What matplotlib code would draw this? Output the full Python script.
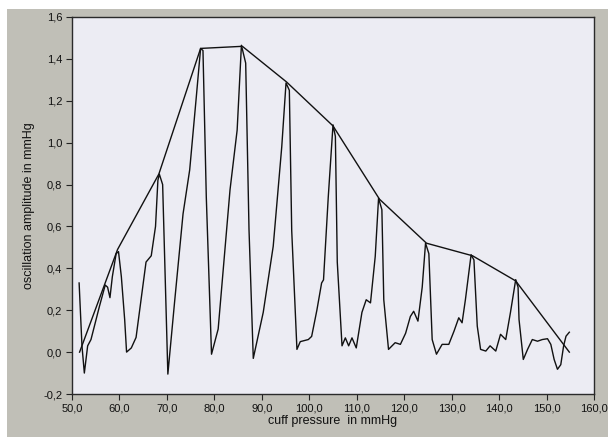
import matplotlib
matplotlib.use("Agg")
import matplotlib.pyplot as plt
from matplotlib.patches import Rectangle
from matplotlib.ticker import FuncFormatter, MultipleLocator

plt.rcParams['font.family'] = ['Liberation Sans', 'DejaVu Sans']

# oscillation signal (cuff pressure, amplitude)
signal_x = [51.5, 52.1, 52.6, 53.3, 54.0, 55.8, 57.0, 57.5, 58.0, 58.5, 59.3, 59.8,
            60.4, 61.1, 61.5, 62.5, 63.5, 65.6, 66.7, 67.6, 68.1, 68.4, 69.1, 70.2,
            71.6, 73.4, 74.8, 76.2, 77.1, 77.6, 78.3, 79.4, 80.8, 83.3, 84.8, 85.7,
            86.6, 87.3, 88.2, 90.3, 92.4, 94.2, 95.1, 95.8, 96.3, 97.4, 98.1, 99.8,
            100.5, 101.6, 102.6, 103.0, 104.0, 105.0, 105.5, 105.9, 106.9, 107.6,
            108.3, 109.0, 109.9, 111.1, 112.0, 112.9, 113.9, 114.6, 115.3, 115.7,
            116.7, 118.1, 119.2, 120.3, 121.3, 122.0, 122.9, 123.8, 124.5, 125.2,
            125.9, 126.8, 128.0, 129.4, 130.5, 131.5, 132.2, 132.9, 134.1, 134.7,
            135.4, 136.1, 137.2, 138.1, 139.3, 140.3, 141.4, 142.4, 143.5, 144.0,
            144.2, 145.1, 146.0, 147.0, 148.1, 149.1, 150.2, 150.9, 151.6, 152.3,
            153.0, 153.6, 154.1, 154.8]
signal_y = [0.33, 0.03, -0.10, 0.03, 0.06, 0.22, 0.32, 0.31, 0.26, 0.36, 0.47, 0.48,
            0.36, 0.155, 0.0, 0.02, 0.07, 0.43, 0.46, 0.60, 0.82, 0.85, 0.80, -0.105,
            0.235, 0.66, 0.87, 1.22, 1.45, 1.44, 0.74, -0.01, 0.11, 0.775, 1.06, 1.465,
            1.38, 0.585, -0.03, 0.19, 0.505, 0.98, 1.285, 1.25, 0.58, 0.013, 0.05, 0.06,
            0.075, 0.20, 0.33, 0.345, 0.74, 1.085, 1.03, 0.43, 0.03, 0.068,
            0.03, 0.068, 0.02, 0.19, 0.25, 0.235, 0.457, 0.735, 0.68, 0.25,
            0.013, 0.045, 0.037, 0.09, 0.17, 0.195, 0.148, 0.31, 0.52, 0.47,
            0.06, -0.01, 0.037, 0.037, 0.10, 0.164, 0.14, 0.25, 0.465, 0.44,
            0.124, 0.013, 0.005, 0.03, 0.005, 0.085, 0.06, 0.19, 0.346, 0.31,
            0.156, -0.035, 0.013, 0.06, 0.052, 0.06, 0.064, 0.037, -0.035, -0.082,
            -0.06, 0.03, 0.076, 0.095]

# envelope through the beat maxima
envelope_x = [51.6, 59.6, 68.3, 77.1, 85.9, 95.2, 105.0, 114.8, 124.7, 134.4, 143.5, 154.8]
envelope_y = [0.0, 0.49, 0.85, 1.45, 1.46, 1.29, 1.08, 0.73, 0.52, 0.46, 0.34, 0.0]

W, H = 608, 437
fig = plt.figure(figsize=(W / 100, H / 100), dpi=100, facecolor="white")

# grey panel behind the graph
fig.patches.append(Rectangle((7 / W, 0), 1 - 7 / W, 1 - 9 / H, transform=fig.transFigure,
                             facecolor="#c0bfb7", edgecolor="none", zorder=-10))

ax = fig.add_axes([72 / W, (H - 394) / H, (594 - 72) / W, (394 - 17) / H])
ax.set_facecolor("#ececf3")

ax.plot(signal_x, signal_y, color="#111111", lw=1.0)
ax.plot(envelope_x, envelope_y, color="#111111", lw=1.0)

ax.set_xlim(50, 160)
ax.set_ylim(-0.2, 1.6)
ax.xaxis.set_major_locator(MultipleLocator(10))
ax.yaxis.set_major_locator(MultipleLocator(0.2))
comma = FuncFormatter(lambda v, _: f"{v:.1f}".replace(".", ","))
ax.xaxis.set_major_formatter(comma)
ax.yaxis.set_major_formatter(comma)

ax.tick_params(direction="out", length=4, width=0.8, color="#222222",
               labelsize=8, labelcolor="#111111", pad=3)
for s in ax.spines.values():
    s.set_color("#2a2a2a")
    s.set_linewidth(1.0)

ax.set_xlabel("cuff pressure  in mmHg", fontsize=9, color="#111111", labelpad=1)
ax.set_ylabel("oscillation amplitude in mmHg", fontsize=9, color="#111111", labelpad=6)

plt.savefig("out.png", dpi=100, facecolor=fig.get_facecolor())
plt.close()
